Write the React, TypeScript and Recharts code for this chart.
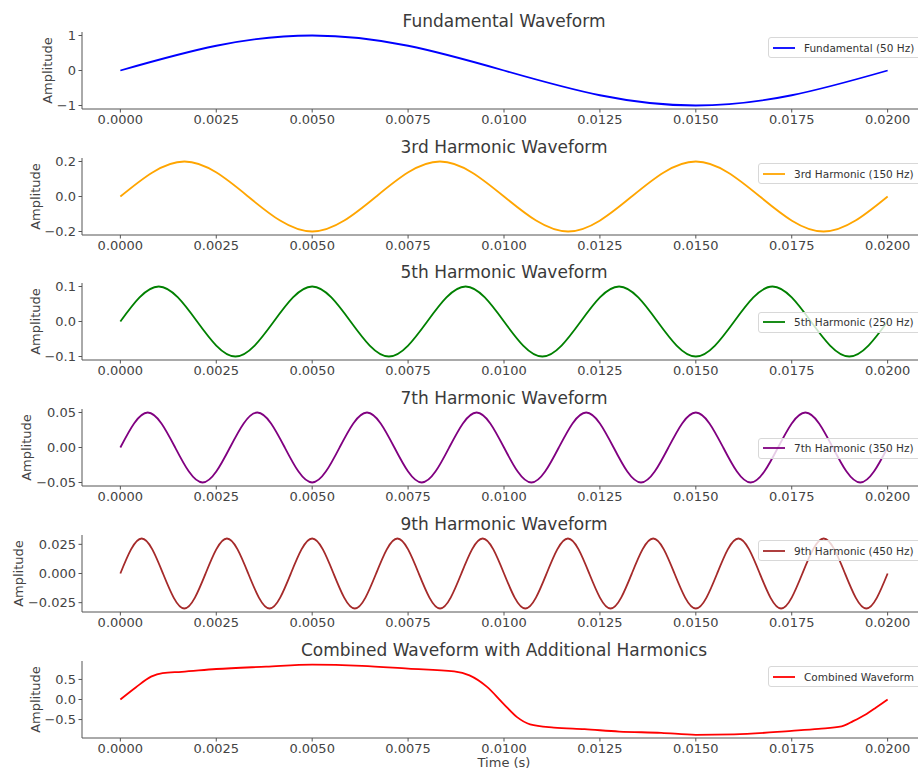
import React from "react"
import { LineChart, Line, XAxis, YAxis, Legend } from "recharts"

// time samples (s) and amplitudes
const fundT = [0, 0.0025, 0.005, 0.0075, 0.01, 0.0125, 0.015, 0.0175, 0.02]
const fundV = [0, 0.707, 1, 0.707, 0, -0.707, -1, -0.707, 0]

const h3T = [0, 0.00167, 0.00333, 0.005, 0.00667, 0.00833, 0.01, 0.01167, 0.01333, 0.015, 0.01667, 0.01833, 0.02]
const h3V = [0, 0.2, 0, -0.2, 0, 0.2, 0, -0.2, 0, 0.2, 0, -0.2, 0]

const h5T = [
  0, 0.001, 0.002, 0.003, 0.004, 0.005, 0.006, 0.007, 0.008, 0.009, 0.01, 0.011, 0.012, 0.013, 0.014, 0.015, 0.016,
  0.017, 0.018, 0.019, 0.02,
]
const h5V = [0, 0.1, 0, -0.1, 0, 0.1, 0, -0.1, 0, 0.1, 0, -0.1, 0, 0.1, 0, -0.1, 0, 0.1, 0, -0.1, 0]

const h7T = [
  0, 0.000714, 0.001429, 0.002143, 0.002857, 0.003571, 0.004286, 0.005, 0.005714, 0.006429, 0.007143, 0.007857,
  0.008571, 0.009286, 0.01, 0.010714, 0.011429, 0.012143, 0.012857, 0.013571, 0.014286, 0.015, 0.015714, 0.016429,
  0.017143, 0.017857, 0.018571, 0.019286, 0.02,
]
const h7V = [
  0, 0.05, 0, -0.05, 0, 0.05, 0, -0.05, 0, 0.05, 0, -0.05, 0, 0.05, 0, -0.05, 0, 0.05, 0, -0.05, 0, 0.05, 0, -0.05, 0,
  0.05, 0, -0.05, 0,
]

const h9T = [
  0, 0.000556, 0.001111, 0.001667, 0.002222, 0.002778, 0.003333, 0.003889, 0.004444, 0.005, 0.005556, 0.006111,
  0.006667, 0.007222, 0.007778, 0.008333, 0.008889, 0.009444, 0.01, 0.010556, 0.011111, 0.011667, 0.012222, 0.012778,
  0.013333, 0.013889, 0.014444, 0.015, 0.015556, 0.016111, 0.016667, 0.017222, 0.017778, 0.018333, 0.018889, 0.019444,
  0.02,
]
const h9V = [
  0, 0.03, 0, -0.03, 0, 0.03, 0, -0.03, 0, 0.03, 0, -0.03, 0, 0.03, 0, -0.03, 0, 0.03, 0, -0.03, 0, 0.03, 0, -0.03, 0,
  0.03, 0, -0.03, 0, 0.03, 0, -0.03, 0, 0.03, 0, -0.03, 0,
]

const combT = [
  0, 0.0004, 0.0008, 0.0011, 0.0016, 0.0025, 0.0038, 0.005, 0.0063, 0.0075, 0.0087, 0.0091, 0.00955, 0.01, 0.01034,
  0.01068, 0.0113, 0.0121, 0.013, 0.0141, 0.015, 0.016, 0.0175, 0.0182, 0.0188, 0.0191, 0.01945, 0.0197, 0.02,
]
const combV = [
  0, 0.3, 0.57, 0.66, 0.69, 0.76, 0.82, 0.87, 0.84, 0.77, 0.7, 0.6, 0.32, -0.12, -0.44, -0.62, -0.7, -0.74, -0.8,
  -0.83, -0.88, -0.87, -0.78, -0.73, -0.67, -0.54, -0.36, -0.2, 0,
]

const timeTicks = [0, 0.0025, 0.005, 0.0075, 0.01, 0.0125, 0.015, 0.0175, 0.02]

const FONT = '"DejaVu Sans", sans-serif'
const AXIS = "#555"
const TEXT = "#444"

const fmt = (digits: number) => (x: number) => x.toFixed(digits).replace("-", "\u2212")

type PanelProps = {
  t: number[]
  v: number[]
  color: string
  curve: "natural" | "monotone"
  title: string
  name: string
  domain: [number, number]
  yTicks: number[]
  digits: number
  labelX: number
  legendLeft: number
  legendTop: number
  top: number
  height?: number
  xLabel?: string
}

const Panel = ({
  t,
  v,
  color,
  curve,
  title,
  name,
  domain,
  yTicks,
  digits,
  labelX,
  legendLeft,
  legendTop,
  top,
  height = 126,
  xLabel,
}: PanelProps) => {
  const data = t.map((x, i) => ({ t: x, v: v[i] }))
  return (
    <div style={{ position: "absolute", left: 0, top }}>
      <LineChart width={940} height={height} data={data} margin={{ top: 32, right: 14, bottom: 0, left: 0 }}>
        <XAxis
          type="number"
          dataKey="t"
          domain={[-0.001, 0.021]}
          ticks={timeTicks}
          interval={0}
          tickFormatter={fmt(4)}
          height={height - 109}
          stroke={AXIS}
          tickSize={3.5}
          tickMargin={2}
          tick={{ fontSize: 13, fill: TEXT, fontFamily: FONT }}
        />
        <YAxis
          type="number"
          domain={domain}
          ticks={yTicks}
          interval={0}
          tickFormatter={fmt(digits)}
          width={82}
          stroke={AXIS}
          tickSize={3.5}
          tickMargin={2.5}
          tick={{ fontSize: 13, fill: TEXT, fontFamily: FONT }}
        />
        <Legend
          layout="vertical"
          align="center"
          verticalAlign="middle"
          wrapperStyle={{ left: legendLeft, top: legendTop, width: "auto" }}
          content={(props: any) => (
            <div>
              {(props.payload || []).map((entry: any) => (
                <div
                  key={entry.value}
                  style={{
                    display: "flex",
                    alignItems: "center",
                    height: 19,
                    padding: "0 10px 0 4px",
                    border: "1px solid #d8d8d8",
                    borderRadius: 3,
                    background: "rgba(255,255,255,0.8)",
                  }}
                >
                  <svg width={22} height={4} style={{ display: "block" }}>
                    <line x1={0} y1={2} x2={22} y2={2} stroke={color} strokeWidth={1.8} />
                  </svg>
                  <span style={{ marginLeft: 9, fontSize: 10.5, color: "#333", whiteSpace: "nowrap" }}>
                    {entry.value}
                  </span>
                </div>
              ))}
            </div>
          )}
        />
        <Line
          type={curve}
          dataKey="v"
          name={name}
          stroke={color}
          strokeWidth={1.8}
          dot={false}
          isAnimationActive={false}
        />
        <text x={504} y={27} textAnchor="middle" fontSize={17} fill="#3a3a3a" fontFamily={FONT}>
          {title}
        </text>
        <text
          x={labelX}
          y={70.5}
          transform={`rotate(-90 ${labelX} 70.5)`}
          textAnchor="middle"
          dominantBaseline="central"
          fontSize={13}
          fill={TEXT}
          fontFamily={FONT}
        >
          Amplitude
        </text>
        {xLabel && (
          <text x={504} y={138} textAnchor="middle" fontSize={13} fill={TEXT} fontFamily={FONT}>
            {xLabel}
          </text>
        )}
      </LineChart>
    </div>
  )
}

export default function App() {
  return (
    <div
      style={{
        position: "absolute",
        left: 0,
        top: 0,
        width: 918,
        height: 769,
        overflow: "hidden",
        background: "#fff",
        fontFamily: FONT,
      }}
    >
      <Panel
        t={fundT}
        v={fundV}
        color="#0000ff"
        curve="natural"
        title="Fundamental Waveform"
        name="Fundamental (50 Hz)"
        domain={[-1.1, 1.1]}
        yTicks={[-1, 0, 1]}
        digits={0}
        labelX={47}
        legendLeft={768}
        legendTop={37}
        top={0}
      />
      <Panel
        t={h3T}
        v={h3V}
        color="#ffa500"
        curve="natural"
        title="3rd Harmonic Waveform"
        name="3rd Harmonic (150 Hz)"
        domain={[-0.22, 0.22]}
        yTicks={[-0.2, 0, 0.2]}
        digits={1}
        labelX={35}
        legendLeft={758}
        legendTop={37}
        top={126}
      />
      <Panel
        t={h5T}
        v={h5V}
        color="#008000"
        curve="natural"
        title="5th Harmonic Waveform"
        name="5th Harmonic (250 Hz)"
        domain={[-0.11, 0.11]}
        yTicks={[-0.1, 0, 0.1]}
        digits={1}
        labelX={35}
        legendLeft={758}
        legendTop={60.5}
        top={251}
      />
      <Panel
        t={h7T}
        v={h7V}
        color="#800080"
        curve="natural"
        title="7th Harmonic Waveform"
        name="7th Harmonic (350 Hz)"
        domain={[-0.055, 0.055]}
        yTicks={[-0.05, 0, 0.05]}
        digits={2}
        labelX={26}
        legendLeft={758}
        legendTop={60.5}
        top={377}
      />
      <Panel
        t={h9T}
        v={h9V}
        color="#a52a2a"
        curve="natural"
        title="9th Harmonic Waveform"
        name="9th Harmonic (450 Hz)"
        domain={[-0.033, 0.033]}
        yTicks={[-0.025, 0, 0.025]}
        digits={3}
        labelX={18}
        legendLeft={758}
        legendTop={37}
        top={503}
      />
      <Panel
        t={combT}
        v={combV}
        color="#ff0000"
        curve="monotone"
        title="Combined Waveform with Additional Harmonics"
        name="Combined Waveform"
        domain={[-0.96, 0.96]}
        yTicks={[-0.5, 0, 0.5]}
        digits={1}
        labelX={35}
        legendLeft={768}
        legendTop={37}
        top={629}
        height={150}
        xLabel="Time (s)"
      />
    </div>
  )
}
